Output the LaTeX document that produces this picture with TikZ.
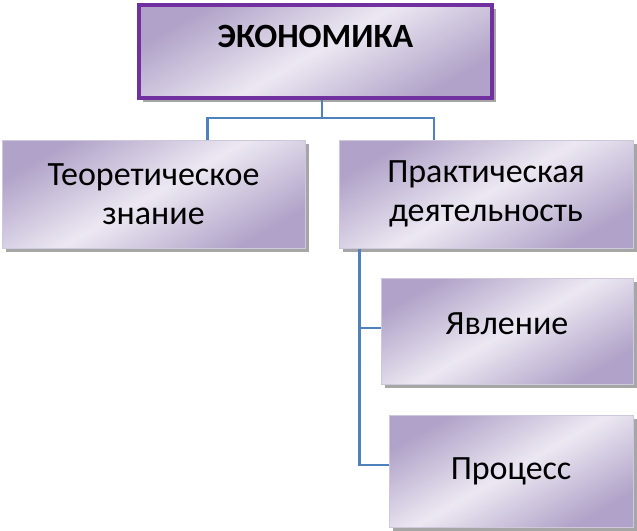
\documentclass[tikz,border=0pt]{standalone}
\usepackage{fontspec}
\setmainfont{Carlito}
\usetikzlibrary{positioning,shadows}
\definecolor{lavDark}{RGB}{176,162,200}
\definecolor{lavLight}{RGB}{236,232,242}
\definecolor{lavEdge}{RGB}{206,200,218}
\definecolor{titlePurple}{RGB}{112,48,160}
\definecolor{linkBlue}{RGB}{79,129,189}

\begin{document}
\begin{tikzpicture}[x=1pt, y=1pt, line width=1pt,
    box/.style={draw=lavEdge, inner sep=0pt, align=center,
        font=\fontsize{34}{39}\selectfont,
        top color=lavDark, bottom color=lavDark, middle color=lavLight, shading angle=30,
        drop shadow={shadow xshift=4pt, shadow yshift=-4pt, fill=black!35, opacity=1}},
    link/.style={draw=linkBlue, line width=2.6pt}]
    \useasboundingbox (0,0) rectangle (637,-530);

    \node[box, draw=titlePurple, line width=4pt, minimum width=353pt, minimum height=93pt,
        font=\fontsize{34}{39}\selectfont\bfseries, text height=21pt, text depth=29pt]
        (econ) at (315.5,-51.5) {ЭКОНОМИКА};

    \node[box, minimum width=303pt, minimum height=108pt] (theory) at (153.5,-194) {Теоретическое\\знание};
    \node[box, minimum width=294pt, minimum height=108pt, right=33pt of theory] (practice) {Практическая\\деятельность};
    \node[box, minimum width=252pt, minimum height=106pt, text height=21pt, text depth=14pt,
        below left=29pt and 0pt of practice.south east] (phenom) {Явление};
    \node[box, minimum width=244pt, minimum height=112pt,
        below left=30pt and 0pt of phenom.south east] (process) {Процесс};

    \coordinate (split) at (322,-118);
    \draw[link] (econ.south -| split) -- (split);
    \draw[link] (split) -| ([xshift=54pt]theory.north);
    \draw[link] (split) -| ([xshift=-52pt]practice.north);

    \draw[link] ([xshift=21pt]practice.south west) |- ([yshift=3pt]phenom.west);
    \draw[link] ([xshift=21pt]practice.south west) |- ([yshift=6pt]process.west);

\end{tikzpicture}
\end{document}
